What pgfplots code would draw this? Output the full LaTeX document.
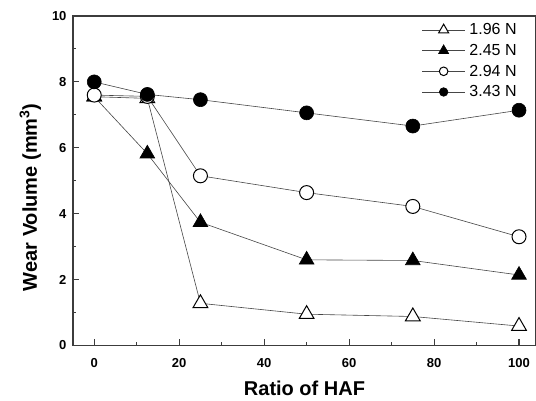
\documentclass[border=0pt]{standalone}
\usepackage{pgfplots}
\pgfplotsset{compat=1.18}
\usepackage{fontspec}
\setmainfont{Liberation Sans}
\definecolor{axgray}{RGB}{60,60,60}
\definecolor{lngray}{RGB}{70,70,70}
\newcommand{\lf}{\fontsize{16}{19}\selectfont}
\begin{document}
\begin{tikzpicture}
\path[use as bounding box] (-73pt,-55.5pt) rectangle (463pt,345.5pt);
\begin{axis}[
  at={(0pt,0pt)}, anchor=south west,
  scale only axis, width=463pt, height=329.5pt,
  xmin=-5, xmax=104, ymin=0, ymax=10,
  xtick={0,20,40,60,80,100}, minor xtick={10,30,50,70,90},
  ytick={0,2,4,6,8,10}, minor ytick={1,3,5,7,9},
  xtick pos=left, ytick pos=left, tick align=inside,
  major tick length=6pt, minor tick length=3.5pt,
  axis line style={axgray, line width=1.4pt},
  every tick/.style={axgray, line width=1.1pt},
  /pgf/number format/assume math mode=true,
  tick label style={font=\fontsize{13}{15}\selectfont\bfseries},
  xticklabel style={yshift=-9pt},
  yticklabel style={xshift=-3pt},
  label style={font=\fontsize{20}{23}\selectfont\bfseries},
  xlabel={Ratio of HAF},
  ylabel={Wear Volume (mm\textsuperscript{3})},
  xlabel style={at={(axis description cs:0.5,0)}, anchor=center, yshift=-42.5pt},
  ylabel style={at={(axis description cs:-0.092,0.45)}, anchor=center},
  legend style={draw=none, fill=none, at={(0.753,0.982)}, anchor=north west,
    font=\lf, row sep=5pt, inner sep=0pt, nodes={inner sep=1.5pt},
    /tikz/every odd column/.append style={column sep=2.5pt}},
  legend cell align=left,
  every axis plot post/.append style={
    legend image code/.code={\draw[mark repeat=2,mark phase=2] plot coordinates {(0pt,0pt) (21.5pt,0pt) (43pt,0pt)};}},
  every axis plot/.append style={color=lngray, line width=0.6pt},
]
\addplot[mark=triangle*, mark size=8.5pt, mark options={fill=white, draw=black, line width=1pt},
  legend image post style={mark size=5.8pt}]
  coordinates {(0,7.55) (12.5,7.5) (25,1.28) (50,0.95) (75,0.88) (100,0.59)};
\addlegendentry{1.96 N}
\addplot[mark=triangle*, mark size=8.5pt, mark options={fill=black, draw=black},
  legend image post style={mark size=5.8pt}]
  coordinates {(0,7.55) (12.5,5.82) (25,3.74) (50,2.6) (75,2.58) (100,2.14)};
\addlegendentry{2.45 N}
\addplot[mark=*, mark size=7pt, mark options={fill=white, draw=black, line width=1pt},
  legend image post style={mark size=4.3pt}]
  coordinates {(0,7.6) (12.5,7.56) (25,5.15) (50,4.64) (75,4.22) (100,3.3)};
\addlegendentry{2.94 N}
\addplot[mark=*, mark size=7pt, mark options={fill=black, draw=black},
  legend image post style={mark size=4.3pt}]
  coordinates {(0,8.0) (12.5,7.62) (25,7.46) (50,7.06) (75,6.66) (100,7.14)};
\addlegendentry{3.43 N}
\end{axis}
\end{tikzpicture}
\end{document}
